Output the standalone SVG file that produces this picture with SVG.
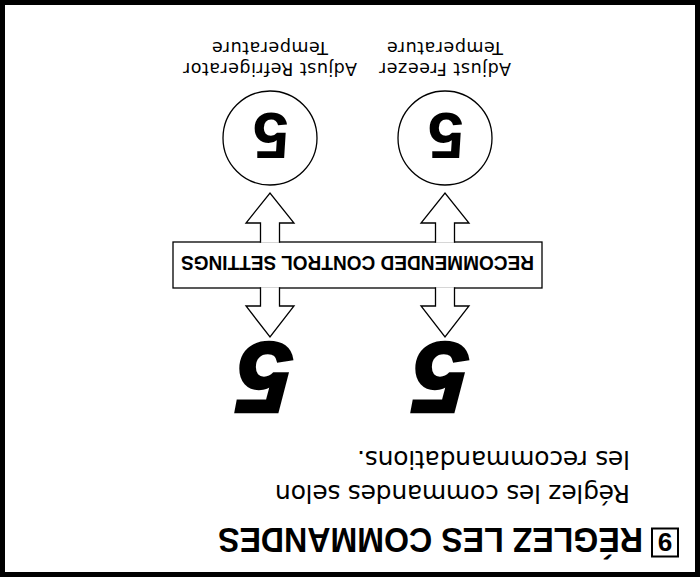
<svg xmlns="http://www.w3.org/2000/svg" width="700" height="577" viewBox="0 0 700 577">
<style>
.ln{fill:#fff;stroke:#000;stroke-width:1.3;stroke-linecap:butt;stroke-linejoin:miter}
.lbl{font-family:"DejaVu Sans","Liberation Sans",sans-serif;font-size:17.5px;text-anchor:middle;fill:#000}
.body{font-family:"DejaVu Sans","Liberation Sans",sans-serif;font-size:25px;fill:#000}
.title{font-family:"Liberation Sans",Arial,sans-serif;font-weight:bold;font-size:35px;fill:#000}
.ban{font-family:"Liberation Sans",Arial,sans-serif;font-weight:bold;font-size:20px;text-anchor:middle;fill:#000}
.dial{font-family:"Liberation Sans",Arial,sans-serif;font-weight:bold;font-size:65px;text-anchor:middle;fill:#000}
.big{font-family:"Liberation Sans",Arial,sans-serif;font-weight:bold;font-style:italic;font-size:101px;text-anchor:middle;fill:#000;stroke:#000;stroke-width:2.5}
</style>
<rect id="frame" x="2.5" y="2.5" width="695" height="572" fill="#fff" stroke="#000" stroke-width="5"/>
<g transform="rotate(180 350 288.5)">
  <g id="title">
    <rect x="22" y="20.5" width="26" height="28" fill="none" stroke="#000" stroke-width="2"/>
    <text x="35" y="44" class="title" style="font-size:26px" text-anchor="middle">9</text>
    <text x="57" y="49" class="title" textLength="425" lengthAdjust="spacingAndGlyphs">RÉGLEZ LES COMMANDES</text>
  </g>
  <g id="instructions">
    <text x="70" y="92" class="body" textLength="355">Réglez les commandes selon</text>
    <text x="70" y="126" class="body" textLength="273">les recommandations.</text>
  </g>
  <g id="freezer-setting">
    <text x="259" y="234" class="big">5</text>
  </g>
  <g id="fridge-setting">
    <text x="435" y="234" class="big">5</text>
  </g>
  <g id="banner">
    <rect x="158" y="289" width="369" height="46" class="ln"/>
  </g>
  <g id="connectors">
    <path class="ln" d="M245.5,289.65 V271 H231 L255,240 L279,271 H264.5 V289.65"/>
    <path class="ln" d="M420.5,289.65 V271 H406 L430,240 L454,271 H439.5 V289.65"/>
    <path class="ln" d="M245.5,334.35 V354 H231 L255,384 L279,354 H264.5 V334.35"/>
    <path class="ln" d="M420.5,334.35 V354 H406 L430,384 L454,354 H439.5 V334.35"/>
  </g>
  <g id="banner-label">
    <text x="342.5" y="321" class="ban" textLength="353" lengthAdjust="spacingAndGlyphs">RECOMMENDED CONTROL SETTINGS</text>
  </g>
  <g id="freezer-dial">
    <circle cx="255" cy="439" r="47" class="ln"/>
    <text x="254" y="464" class="dial">5</text>
    <text x="255" y="514" class="lbl" textLength="132">Adjust Freezer</text>
    <text x="255" y="535" class="lbl" textLength="116">Temperature</text>
  </g>
  <g id="fridge-dial">
    <circle cx="430" cy="439" r="47" class="ln"/>
    <text x="429" y="464" class="dial">5</text>
    <text x="430" y="514" class="lbl" textLength="174">Adjust Refrigerator</text>
    <text x="430" y="535" class="lbl" textLength="116">Temperature</text>
  </g>
</g>
</svg>
